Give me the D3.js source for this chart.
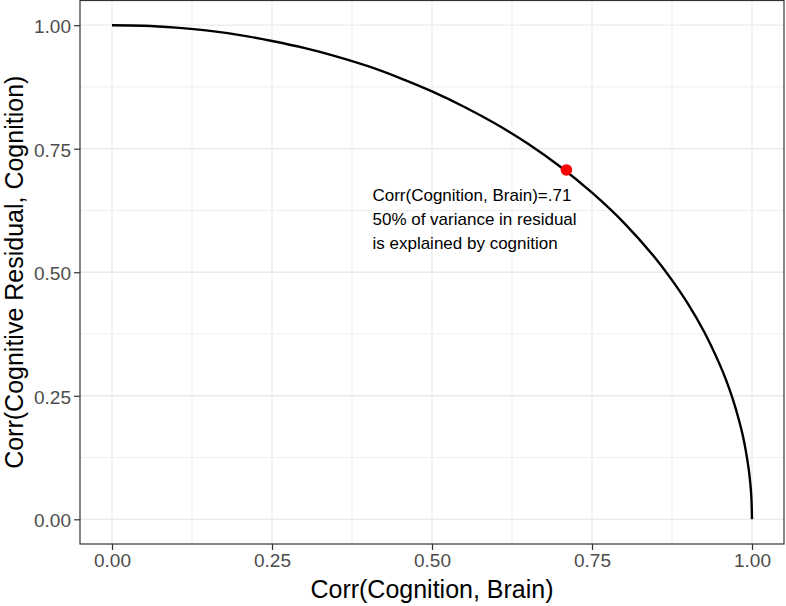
<!DOCTYPE html>
<html lang="en">
<head>
<meta charset="UTF-8">
<script src="https://d3js.org/d3.v7.min.js"></script>
<style>
    body { margin: 0; background: #fff; }
    .tick-label { font: 19px "Liberation Sans", Arial, sans-serif; fill: #4d4d4d; }
    .axis-title { font: 25px "Liberation Sans", Arial, sans-serif; fill: #000; }
    .annot { font: 17px "Liberation Sans", Arial, sans-serif; fill: #000; }
</style>
</head>
<body>
<div id="chart"></div>
<script>
// curve values
const corrBrain = [0, 0.05, 0.10, 0.15, 0.20, 0.25, 0.30, 0.35, 0.40, 0.45, 0.50, 0.55, 0.60, 0.65,
    0.70, 0.75, 0.80, 0.85, 0.875, 0.90, 0.925, 0.95, 0.96, 0.97, 0.98, 0.985, 0.99, 0.995, 0.9975, 0.999, 1.0];
const corrResidual = [1.000, 0.999, 0.995, 0.989, 0.980, 0.968, 0.954, 0.937, 0.917, 0.893, 0.866, 0.835, 0.800, 0.760,
    0.714, 0.661, 0.600, 0.527, 0.484, 0.436, 0.380, 0.312, 0.280, 0.243, 0.199, 0.173, 0.141, 0.100, 0.071, 0.045, 0.000];

// highlighted point
const pointX = [0.71];
const pointY = [0.707];

// annotation
const annotLines = ["Corr(Cognition, Brain)=.71", "50% of variance in residual", "is explained by cognition"];
const annotAt = [0.407, 0.645];

const majorTicks = [0, 0.25, 0.5, 0.75, 1.0];
const minorTicks = [0.125, 0.375, 0.625, 0.875];

const xTitle = "Corr(Cognition, Brain)";
const yTitle = "Corr(Cognitive Residual, Cognition)";

// Dimensions
const width = 786, height = 606;
const panel = { left: 80, right: 784, top: 0.5, bottom: 544 };

const svg = d3.select("#chart").append("svg")
    .attr("width", width)
    .attr("height", height);

// Scales (ggplot style 5% expansion)
const xScale = d3.scaleLinear().domain([-0.05, 1.05]).range([panel.left, panel.right]);
const yScale = d3.scaleLinear().domain([-0.05, 1.05]).range([panel.bottom, panel.top]);

// Grid
const grid = svg.append("g");
grid.selectAll(".vminor").data(minorTicks).join("line")
    .attr("x1", d => xScale(d)).attr("x2", d => xScale(d))
    .attr("y1", panel.top).attr("y2", panel.bottom)
    .attr("stroke", "#ebebeb").attr("stroke-width", 0.8);
grid.selectAll(".hminor").data(minorTicks).join("line")
    .attr("y1", d => yScale(d)).attr("y2", d => yScale(d))
    .attr("x1", panel.left).attr("x2", panel.right)
    .attr("stroke", "#ebebeb").attr("stroke-width", 0.8);
grid.selectAll(".vmajor").data(majorTicks).join("line")
    .attr("x1", d => xScale(d)).attr("x2", d => xScale(d))
    .attr("y1", panel.top).attr("y2", panel.bottom)
    .attr("stroke", "#ebebeb").attr("stroke-width", 1.3);
grid.selectAll(".hmajor").data(majorTicks).join("line")
    .attr("y1", d => yScale(d)).attr("y2", d => yScale(d))
    .attr("x1", panel.left).attr("x2", panel.right)
    .attr("stroke", "#ebebeb").attr("stroke-width", 1.3);

// Curve
const pts = corrBrain.map((x, i) => [x, corrResidual[i]]);
const line = d3.line()
    .x(d => xScale(d[0]))
    .y(d => yScale(d[1]))
    .curve(d3.curveCatmullRom);
svg.append("path")
    .datum(pts)
    .attr("d", line)
    .attr("fill", "none")
    .attr("stroke", "#000")
    .attr("stroke-width", 2.4);

// Point
svg.selectAll(".pt").data(pointX).join("circle")
    .attr("cx", d => xScale(d))
    .attr("cy", (d, i) => yScale(pointY[i]))
    .attr("r", 5.8)
    .attr("fill", "#ff0000");

// Annotation
svg.append("text")
    .attr("class", "annot")
    .attr("x", xScale(annotAt[0]))
    .attr("y", yScale(annotAt[1]))
    .selectAll("tspan").data(annotLines).join("tspan")
    .attr("x", xScale(annotAt[0]))
    .attr("dy", (d, i) => i === 0 ? 0 : 24)
    .text(d => d);

// Panel border
svg.append("rect")
    .attr("x", panel.left).attr("y", panel.top)
    .attr("width", panel.right - panel.left)
    .attr("height", panel.bottom - panel.top)
    .attr("fill", "none")
    .attr("stroke", "#333")
    .attr("stroke-width", 1.2);

// Axes
const fmt = d3.format(".2f");
const xAxis = svg.append("g")
    .attr("transform", `translate(0,${panel.bottom})`)
    .call(d3.axisBottom(xScale).tickValues(majorTicks).tickFormat(fmt).tickSize(6).tickPadding(4));
const yAxis = svg.append("g")
    .attr("transform", `translate(${panel.left},0)`)
    .call(d3.axisLeft(yScale).tickValues(majorTicks).tickFormat(fmt).tickSize(6).tickPadding(3));
[xAxis, yAxis].forEach(a => {
    a.select(".domain").remove();
    a.selectAll(".tick line").attr("stroke", "#333").attr("stroke-width", 1.2);
    a.selectAll(".tick text").attr("class", "tick-label").attr("fill", null);
});
xAxis.selectAll(".tick text").attr("dy", "0.71em");
yAxis.selectAll(".tick text").attr("dy", "0.40em");

// Axis titles
svg.append("text")
    .attr("class", "axis-title")
    .attr("x", (panel.left + panel.right) / 2)
    .attr("y", 598)
    .attr("text-anchor", "middle")
    .text(xTitle);
svg.append("text")
    .attr("class", "axis-title")
    .attr("transform", `translate(23,${(panel.top + panel.bottom) / 2}) rotate(-90)`)
    .attr("text-anchor", "middle")
    .text(yTitle);
</script>
</body>
</html>
